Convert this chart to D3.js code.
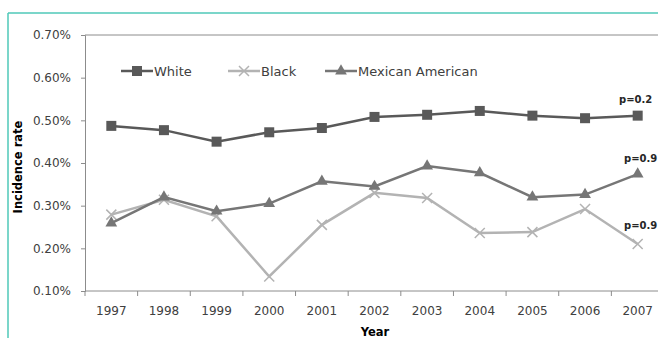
<!DOCTYPE html>
<html>
<head>
<meta charset="utf-8">
<script src="https://cdn.jsdelivr.net/npm/d3@7"></script>
<style>
  body { margin: 0; background: #fff; }
  svg { display: block; font-family: "DejaVu Sans", sans-serif; }
</style>
</head>
<body>
<div id="chart"></div>
<script>
var years = ["1997", "1998", "1999", "2000", "2001", "2002", "2003", "2004", "2005", "2006", "2007"];
var white = [0.487, 0.477, 0.450, 0.472, 0.482, 0.508, 0.513, 0.522, 0.511, 0.505, 0.511];
var black = [0.279, 0.314, 0.275, 0.134, 0.255, 0.330, 0.318, 0.236, 0.238, 0.292, 0.210];
var mexican = [0.259, 0.320, 0.287, 0.305, 0.357, 0.345, 0.393, 0.377, 0.320, 0.326, 0.374];
var yTicks = [0.1, 0.2, 0.3, 0.4, 0.5, 0.6, 0.7];
var pLabels = ["p=0.2", "p=0.9", "p=0.9"];

var svgWidth = 658;
var svgHeight = 338;

var svg = d3.select("#chart")
  .append("svg")
  .attr("width", svgWidth)
  .attr("height", svgHeight);

// teal frame (top + left edges visible)
svg.append("line")
  .attr("x1", 8).attr("x2", svgWidth).attr("y1", 13).attr("y2", 13)
  .attr("stroke", "#4fc9b8").attr("stroke-width", 1.5);
svg.append("line")
  .attr("x1", 8).attr("x2", 8).attr("y1", 13).attr("y2", svgHeight)
  .attr("stroke", "#4fc9b8").attr("stroke-width", 1.5);

// scales
var x = d3.scaleBand()
  .domain(years)
  .range([85, 664]);

var y = d3.scaleLinear()
  .domain([0.1, 0.7])
  .range([291, 35]);

var axisColor = "#8c8c8c";

// top border line of plot area
svg.append("line")
  .attr("x1", 85).attr("x2", svgWidth)
  .attr("y1", y(0.7)).attr("y2", y(0.7))
  .attr("stroke", axisColor);

// y axis
var yAxis = svg.append("g")
  .attr("transform", "translate(85,0)")
  .call(d3.axisLeft(y).tickValues(yTicks).tickSize(4).tickPadding(10)
    .tickFormat(d => d.toFixed(2) + "%"));
yAxis.select(".domain").attr("stroke", axisColor);
yAxis.selectAll(".tick line").attr("stroke", axisColor);
yAxis.selectAll("text")
  .attr("fill", "#404040")
  .style("font-size", "12px")
  .style("font-family", "DejaVu Sans");

// x axis: ticks between categories
var xAxis = svg.append("g")
  .attr("transform", "translate(0,291)");
xAxis.append("line")
  .attr("x1", 85).attr("x2", svgWidth)
  .attr("stroke", axisColor);
xAxis.selectAll(".xtick")
  .data(years)
  .enter()
  .append("line")
  .attr("x1", d => x(d))
  .attr("x2", d => x(d))
  .attr("y1", 0).attr("y2", 5)
  .attr("stroke", axisColor);
xAxis.selectAll(".xlabel")
  .data(years)
  .enter()
  .append("text")
  .attr("x", d => x(d) + x.bandwidth() / 2)
  .attr("y", 24)
  .attr("text-anchor", "middle")
  .attr("fill", "#404040")
  .style("font-size", "12px")
  .text(d => d);

// axis titles
svg.append("text")
  .attr("transform", "translate(22,167) rotate(-90)")
  .attr("text-anchor", "middle")
  .attr("font-weight", "bold")
  .style("font-size", "11.5px")
  .attr("fill", "#000")
  .text("Incidence rate");

svg.append("text")
  .attr("x", 375)
  .attr("y", 336)
  .attr("text-anchor", "middle")
  .attr("font-weight", "bold")
  .style("font-size", "11.5px")
  .attr("fill", "#000")
  .text("Year");

var cx = d => x(d) + x.bandwidth() / 2;

var series = [
  { name: "White", values: white, color: "#595959", marker: "square" },
  { name: "Black", values: black, color: "#b3b3b3", marker: "cross" },
  { name: "Mexican American", values: mexican, color: "#767676", marker: "triangle" }
];

function drawMarker(g, type, color) {
  if (type === "square") {
    g.append("rect")
      .attr("x", -5).attr("y", -5).attr("width", 10).attr("height", 10)
      .attr("fill", color);
  } else if (type === "triangle") {
    g.append("path")
      .attr("d", d3.symbol().type(d3.symbolTriangle).size(60))
      .attr("fill", color);
  } else {
    g.append("path")
      .attr("d", "M-5,-5L5,5M-5,5L5,-5")
      .attr("stroke", color)
      .attr("stroke-width", 1.5)
      .attr("fill", "none");
  }
}

var line = d3.line()
  .x((d, i) => cx(years[i]))
  .y(d => y(d));

// draw lines; black first so darker lines sit on top
[series[1], series[2], series[0]].forEach(function(s) {
  svg.append("path")
    .datum(s.values)
    .attr("d", line)
    .attr("fill", "none")
    .attr("stroke", s.color)
    .attr("stroke-width", 2.5);

  s.values.forEach(function(v, i) {
    var g = svg.append("g")
      .attr("transform", `translate(${cx(years[i])},${y(v)})`);
    drawMarker(g, s.marker, s.color);
  });
});

// legend
var legendX = [121, 228, 325];
series.forEach(function(s, i) {
  var g = svg.append("g")
    .attr("transform", `translate(${legendX[i]},71)`);
  g.append("line")
    .attr("x1", 0).attr("x2", 32)
    .attr("stroke", s.color).attr("stroke-width", 2.5);
  var m = g.append("g").attr("transform", "translate(16,0)");
  drawMarker(m, s.marker, s.color);
  g.append("text")
    .attr("x", 33)
    .attr("y", 4.5)
    .attr("fill", "#404040")
    .style("font-size", "13px")
    .text(s.name);
});

// p-value labels
var pX = [619, 624, 624];
var pY = [103, 162, 229];
pLabels.forEach(function(p, i) {
  svg.append("text")
    .attr("x", pX[i])
    .attr("y", pY[i])
    .attr("font-weight", "bold")
    .style("font-size", "10px")
    .attr("fill", "#262626")
    .text(p);
});
</script>
</body>
</html>
